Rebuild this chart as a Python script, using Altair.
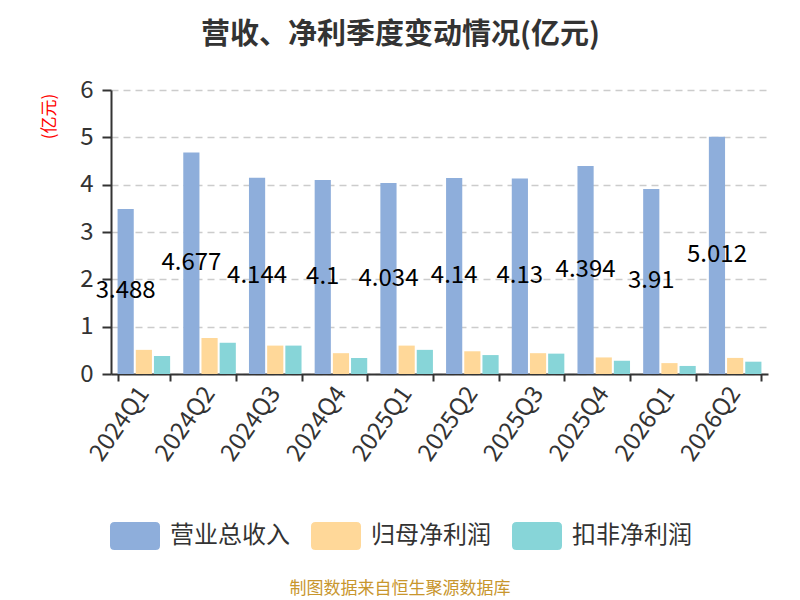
import altair as alt
import pandas as pd

quarters = ["2024Q1", "2024Q2", "2024Q3", "2024Q4", "2025Q1",
            "2025Q2", "2025Q3", "2025Q4", "2026Q1", "2026Q2"]
series_names = ["营业总收入", "归母净利润", "扣非净利润"]
revenue = [3.488, 4.677, 4.144, 4.1, 4.034, 4.14, 4.13, 4.394, 3.91, 5.012]
net_profit = [0.51, 0.76, 0.60, 0.44, 0.60, 0.48, 0.44, 0.35, 0.23, 0.34]
deducted_profit = [0.38, 0.66, 0.60, 0.34, 0.51, 0.40, 0.43, 0.28, 0.17, 0.26]
colors = ["#8eaedb", "#ffd899", "#87d5d8"]
title_text = "营收、净利季度变动情况(亿元)"
footer_text = "制图数据来自恒生聚源数据库"
y_title = "(亿元)"

FONT = "Noto Sans CJK SC"

rows = []
for s, vals in zip(series_names, [revenue, net_profit, deducted_profit]):
    for q, v in zip(quarters, vals):
        rows.append({"quarter": q, "series": s, "value": v, "label": f"{v:g}"})
df = pd.DataFrame(rows)

rr = "M-0.82,-0.56 L0.82,-0.56 Q1,-0.56 1,-0.38 L1,0.38 Q1,0.56 0.82,0.56 L-0.82,0.56 Q-1,0.56 -1,0.38 L-1,-0.38 Q-1,-0.56 -0.82,-0.56 Z"

x_enc = alt.X("quarter:N", sort=quarters,
              scale=alt.Scale(paddingInner=0.2, paddingOuter=0.1),
              axis=alt.Axis(title=None, labelAngle=305, labelAlign="right",
                            labelBaseline="middle", labelFontSize=24,
                            labelFont=FONT, labelColor="#333",
                            labelPadding=8, tickBand="extent", tickSize=7,
                            tickColor="#333", tickWidth=2,
                            domainColor="#333", domainWidth=2, grid=False))
xo_enc = alt.XOffset("series:N", sort=series_names,
                     scale=alt.Scale(domain=series_names, paddingInner=0.11))
y_scale = alt.Scale(domain=[0, 6])

bars = alt.Chart(df).mark_bar().encode(
    x=x_enc,
    xOffset=xo_enc,
    y=alt.Y("value:Q", scale=y_scale,
            axis=alt.Axis(title=y_title, titleColor="red", titleFont=FONT,
                          titleFontSize=17, titleFontWeight="normal",
                          titleAngle=270, titleAlign="center",
                          titleBaseline="middle", titleX=-62, titleY=26,
                          values=[0, 1, 2, 3, 4, 5, 6], format="d",
                          labelFontSize=24, labelFont=FONT, labelColor="#333",
                          labelPadding=9, tickSize=9, tickColor="#333",
                          tickWidth=2, domainColor="#333", domainWidth=2,
                          grid=True, gridColor="#cccccc", gridDash=[7, 5],
                          gridWidth=1.5)),
    color=alt.Color("series:N", sort=series_names,
                    scale=alt.Scale(domain=series_names, range=colors),
                    legend=alt.Legend(title=None, orient="none",
                                      direction="horizontal",
                                      legendX=-1, legendY=421,
                                      symbolType=rr, symbolSize=2500,
                                      symbolStrokeWidth=0, labelFontSize=24,
                                      labelFont=FONT, labelColor="#333",
                                      labelOffset=10, columnPadding=21)),
)

labels = alt.Chart(df).transform_filter(
    alt.datum.series == series_names[0]
).transform_calculate(
    mid="datum.value / 2"
).mark_text(fontSize=24, font=FONT, color="#000", baseline="middle",
            align="center").encode(
    x=alt.X("quarter:N", sort=quarters),
    xOffset=alt.XOffset("series:N", sort=series_names),
    y=alt.Y("mid:Q", scale=y_scale),
    text="label:N",
)

footer = alt.Chart(pd.DataFrame({"t": [footer_text]})).mark_text(
    fontSize=17, font=FONT, color="#c8962d", align="center", baseline="middle"
).encode(x=alt.value(289), y=alt.value(499), text="t:N")

chart = alt.layer(bars, labels, footer).properties(
    width=657, height=284,
    title=alt.Title(title_text, fontSize=29, font=FONT, fontWeight="bold",
                    color="#333", anchor="middle", dx=-39, offset=28),
    autosize=alt.AutoSizeParams(type="none"),
    padding={"left": 103, "top": 82, "right": 24, "bottom": 226},
).configure_view(stroke=None)

chart.save("out.html", embed_options={"renderer": "svg", "actions": False})
